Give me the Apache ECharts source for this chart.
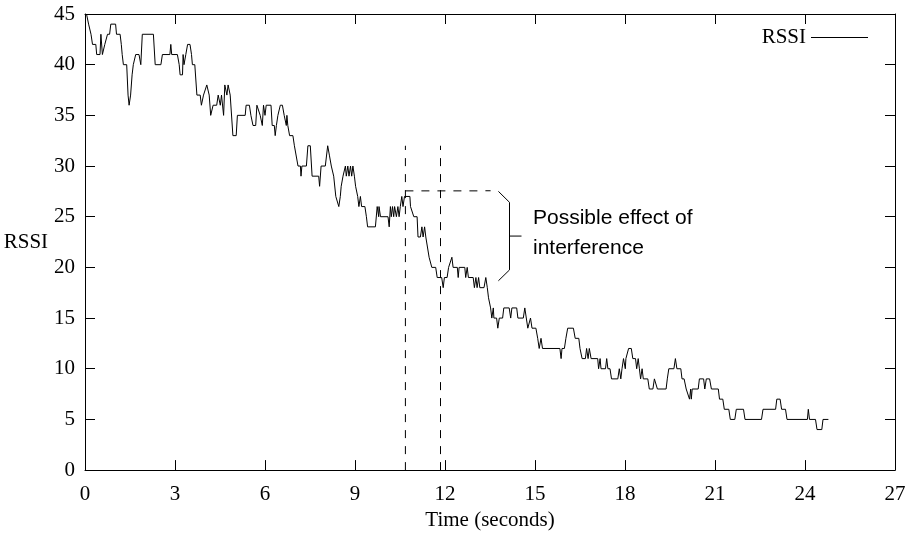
<!DOCTYPE html>
<html>
<head>
<meta charset="utf-8">
<script src="https://cdn.jsdelivr.net/npm/echarts@6/dist/echarts.min.js"></script>
<style>html,body{margin:0;padding:0;background:#fff}#c{width:917px;height:536px}</style>
</head>
<body>
<div id="c"></div>
<script>
// Time (seconds) of each sample
const times = [
0.05,0.12,0.20,0.25,0.36,0.39,0.50,0.53,0.58,0.62,0.66,0.70,0.75,0.82,0.86,1.02,1.05,1.17,1.21,1.24,1.28,1.39,1.435,1.47,1.52,1.57,1.61,1.69,1.80,1.86,1.91,2.28,2.34,2.53,2.58,2.83,2.86,2.89,3.08,3.14,3.17,3.25,3.27,3.30,3.36,3.42,3.50,3.55,3.58,3.66,3.73,3.84,3.88,3.95,4.06,4.14,4.19,4.27,4.39,4.44,4.51,4.55,4.62,4.66,4.73,4.77,4.84,
4.86,4.93,5.04,5.08,5.34,5.37,5.48,5.53,5.60,5.69,5.73,5.79,5.84,5.91,5.95,6.00,6.04,6.20,6.24,6.31,6.34,6.38,6.43,6.51,6.58,6.64,6.71,6.73,6.76,6.82,6.93,6.98,7.04,7.10,7.18,7.20,7.23,7.38,7.43,7.51,7.57,7.79,7.82,7.87,8.01,8.09,8.15,8.21,8.29,8.36,8.42,8.46,8.51,8.54,8.60,8.68,8.71,8.76,8.80,8.85,8.89,8.93,8.98,9.02,9.09,9.13,9.18,9.22,9.33,9.38,9.42,9.68,9.74,9.79,
9.80,9.85,10.10,10.14,10.18,10.21,10.25,10.29,10.32,10.38,10.43,10.47,10.51,10.56,10.60,10.65,10.83,10.85,10.91,10.96,11.07,11.10,11.18,11.23,11.27,11.32,11.36,11.40,11.47,11.53,11.56,11.69,11.74,11.89,11.94,11.98,12.07,12.12,12.18,12.23,12.27,12.41,12.44,12.47,12.66,12.69,12.74,12.78,12.94,12.98,13.03,13.07,13.12,13.16,13.30,13.36,13.41,13.45,13.52,13.56,13.61,13.63,13.72,13.76,13.81,13.92,13.96,14.14,14.19,14.23,14.39,14.43,14.61,14.66,
14.72,14.76,14.81,14.85,14.90,15.03,15.09,15.14,15.20,15.25,15.83,15.87,15.90,15.98,16.03,16.09,16.28,16.34,16.46,16.50,16.57,16.68,16.72,16.77,16.81,16.87,17.09,17.12,17.17,17.20,17.35,17.39,17.43,17.50,17.55,17.76,17.81,17.86,17.90,17.95,18.01,18.03,18.12,18.21,18.26,18.35,18.39,18.44,18.48,18.52,18.57,18.61,18.76,18.81,18.93,18.98,19.04,19.08,19.37,19.41,19.46,
19.63,19.68,19.73,19.86,19.90,19.97,20.04,20.10,20.15,20.19,20.21,20.24,20.44,20.48,20.62,20.66,20.71,20.82,20.88,21.11,21.15,21.26,21.31,21.46,21.51,21.66,21.71,21.95,22.00,22.55,22.60,23.02,23.06,23.17,23.22,23.35,23.40,24.08,24.11,24.15,24.35,24.40,24.56,24.60,24.78
];
// RSSI value of each sample
const rssi = [
45,44,43,42,42,41,41,43,41,41,42,42,43,43,44,44,43,43,42,41,40,40,37,36,37,39,40,41,41,40,43,43,40,40,41,41,42,41,41,40,39,39,41,40,41,42,42,41,40,40,37,37,36,37,38,37,35,36,36,37,36,37,35,38,37,38,37,
37,33,33,35,35,36,36,35,34,34,36,36,35,34,36,35,36,36,34,34,33,34,35,36,36,35,34,35,34,33,33,32,32,30,30,29,30,30,32,32,29,29,28,30,30,32,31,30,29,27,27,26,27,28,29,30,29,30,29,30,29,30,29,28,27,26,27,26,26,25,24,24,26,25,
26,25,25,24,26,25,26,25,26,25,26,25,26,27,26,27,27,26,26,25,25,23,23,24,23,24,23,23,21,21,20,20,19,19,18,19,19,20,20,21,20,20,19,20,20,19,20,19,19,18,19,18,19,18,18,19,18,17,16,15,16,15,15,14,15,15,16,16,15,16,16,15,15,16,
16,14,14,15,14,14,13,12,13,12,12,11,12,12,13,14,14,13,13,12,11,11,12,11,12,11,11,10,11,10,10,11,10,10,9,9,10,9,10,11,10,11,12,12,11,11,10,11,10,9,10,9,9,8,8,9,9,8,8,9,10,
10,11,10,10,9,9,8,8,7,8,7,8,8,9,9,8,9,9,8,8,7,7,6,6,5,5,6,6,5,5,6,6,7,7,6,6,5,5,6,5,5,4,4,5,5
];
// Annotation: markers of interference window
const markTimes = [10.68, 11.85];
const markTop = 32;
const plateauLevel = 27.55;
const plateauEnd = 13.52;
const bracket = [[13.78,27.5],[14.15,26.42],[14.15,19.75],[13.78,18.68]];
const bracketTick = [[14.15,23.09],[14.55,23.09]];
const annotationLines = ['Possible effect of', 'interference'];
const xTicks = {min:0, max:27, step:3};
const yTicks = {min:0, max:45, step:5};

const serif = '"Liberation Serif","DejaVu Serif",serif';
const sans = '"Liberation Sans","DejaVu Sans",sans-serif';
const FS = 21;

const mainData = times.map((t,i)=>[t, rssi[i]]);
const dashStyle = {color:'#000', width:1, type:[8,8]};

const chart = echarts.init(document.getElementById('c'), null, {renderer:'canvas'});
const axisCommon = {
  axisLine:{show:true, onZero:false, lineStyle:{color:'#000', width:1}},
  axisTick:{show:true, inside:true, length:10, lineStyle:{color:'#000', width:1}},
  splitLine:{show:false}
};
chart.setOption({
  animation:false,
  backgroundColor:'#fff',
  grid:{left:85, right:22, top:14, bottom:62, containLabel:false},
  legend:{
    data:['RSSI'], right:44, top:22, align:'right', icon:'rect',
    itemWidth:57, itemHeight:1, itemGap:5,
    textStyle:{fontFamily:serif, fontSize:FS, color:'#000'}
  },
  xAxis:[
    Object.assign({type:'value', min:xTicks.min, max:xTicks.max, interval:xTicks.step, position:'bottom',
      name:'Time (seconds)', nameLocation:'middle', nameGap:38,
      nameTextStyle:{fontFamily:serif, fontSize:FS, color:'#000'},
      axisLabel:{fontFamily:serif, fontSize:FS, color:'#000', margin:14}}, axisCommon),
    Object.assign({type:'value', min:xTicks.min, max:xTicks.max, interval:xTicks.step, position:'top',
      axisLabel:{show:false}}, axisCommon)
  ],
  yAxis:[
    Object.assign({type:'value', min:yTicks.min, max:yTicks.max, interval:yTicks.step, position:'left',
      name:'RSSI', nameLocation:'middle', nameGap:58, nameRotate:0,
      nameTextStyle:{fontFamily:serif, fontSize:FS, color:'#000', align:'center'},
      axisLabel:{fontFamily:serif, fontSize:FS, color:'#000', margin:10}}, axisCommon),
    Object.assign({type:'value', min:yTicks.min, max:yTicks.max, interval:yTicks.step, position:'right',
      axisLabel:{show:false}}, axisCommon)
  ],
  series:[
    {name:'RSSI', type:'line', data:mainData, showSymbol:false, symbol:'none',
      lineStyle:{color:'#000', width:1}, itemStyle:{color:'#000'}, z:5},
    {name:'v1', type:'line', data:[[markTimes[0],0],[markTimes[0],markTop]], showSymbol:false, symbol:'none', lineStyle:dashStyle, silent:true},
    {name:'v2', type:'line', data:[[markTimes[1],0],[markTimes[1],markTop]], showSymbol:false, symbol:'none', lineStyle:dashStyle, silent:true},
    {name:'h', type:'line', data:[[markTimes[0],plateauLevel],[plateauEnd,plateauLevel]], showSymbol:false, symbol:'none', lineStyle:dashStyle, silent:true},
    {name:'br', type:'line', data:bracket, showSymbol:false, symbol:'none', lineStyle:{color:'#000', width:1}, silent:true},
    {name:'brt', type:'line', data:bracketTick, showSymbol:false, symbol:'none', lineStyle:{color:'#000', width:1}, silent:true}
  ],
  graphic:[
    {type:'text', x:533, y:218, style:{text:annotationLines[0], font:FS+'px '+sans, fill:'#000', verticalAlign:'middle'}},
    {type:'text', x:533, y:248, style:{text:annotationLines[1], font:FS+'px '+sans, fill:'#000', verticalAlign:'middle'}}
  ]
});
</script>
</body>
</html>
